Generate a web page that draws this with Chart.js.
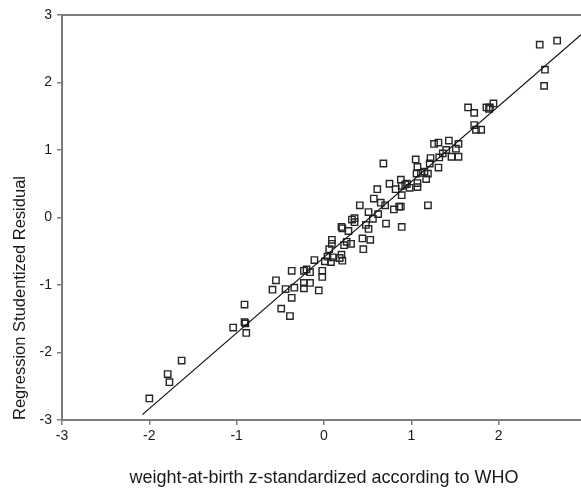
<!DOCTYPE html>
<html>
<head>
<meta charset="utf-8">
<script src="https://cdn.jsdelivr.net/npm/chart.js@4.4.1/dist/chart.umd.min.js"></script>
<style>
  html, body { margin: 0; padding: 0; background: #fff; overflow: hidden; }
  #wrap { width: 620px; height: 491px; }
</style>
</head>
<body>
<div id="wrap"><canvas id="grafico" width="620" height="491"></canvas></div>
<script>
// weight-at-birth z-score (x) vs studentized residual (y)
const zPeso = [
  -2.00, -1.79, -1.77, -1.63, -1.04, -0.91, -0.91, -0.90, -0.89, -0.59,
  -0.55, -0.49, -0.44, -0.39, -0.37, -0.37, -0.34, -0.23, -0.23, -0.23,
  -0.20, -0.16, -0.16, -0.11, -0.06, -0.02, -0.02, 0.01, 0.04, 0.06,
  0.08, 0.09, 0.09, 0.10, 0.18, 0.20, 0.21, 0.20, 0.21, 0.23,
  0.26, 0.28, 0.31, 0.32, 0.35, 0.35, 0.41, 0.44, 0.45, 0.48,
  0.51, 0.51, 0.53, 0.56, 0.57, 0.61, 0.62, 0.65, 0.68, 0.70,
  0.71, 0.75, 0.80, 0.82, 0.86, 0.88, 0.88, 0.89, 0.89, 0.89,
  0.93, 0.95, 0.98, 1.05, 1.06, 1.07, 1.07, 1.07, 1.11, 1.15,
  1.17, 1.19, 1.19, 1.21, 1.22, 1.26, 1.31, 1.31, 1.32, 1.36,
  1.40, 1.43, 1.46, 1.51, 1.54, 1.54, 1.65, 1.72, 1.72, 1.74,
  1.80, 1.86, 1.89, 1.90, 1.94, 2.47, 2.67, 2.53, 2.52
];
const residuo = [
  -2.68, -2.32, -2.44, -2.12, -1.63, -1.29, -1.55, -1.57, -1.71, -1.07,
  -0.93, -1.35, -1.06, -1.46, -0.79, -1.19, -1.04, -0.79, -0.97, -1.05,
  -0.77, -0.81, -0.97, -0.63, -1.08, -0.79, -0.88, -0.65, -0.58, -0.47,
  -0.66, -0.33, -0.39, -0.59, -0.60, -0.14, -0.16, -0.55, -0.64, -0.41,
  -0.36, -0.20, -0.39, -0.03, -0.01, -0.07, 0.18, -0.31, -0.47, -0.11,
  -0.17, 0.08, -0.33, -0.02, 0.28, 0.42, 0.05, 0.22, 0.80, 0.18,
  -0.09, 0.50, 0.12, 0.42, 0.16, 0.56, 0.16, -0.14, 0.33, 0.47,
  0.49, 0.50, 0.44, 0.86, 0.65, 0.75, 0.51, 0.45, 0.66, 0.68,
  0.57, 0.18, 0.65, 0.80, 0.88, 1.09, 1.11, 0.74, 0.89, 0.95,
  1.00, 1.14, 0.90, 1.02, 1.09, 0.90, 1.63, 1.55, 1.37, 1.30,
  1.30, 1.63, 1.61, 1.63, 1.69, 2.56, 2.62, 2.19, 1.95
];
// fitted line, read at its two ends
const lineaX = [-2.08, 3.0];
const lineaY = [-2.92, 2.77];
const ticksEje = [-3, -2, -1, 0, 1, 2, 3];

const gris = "#7d7d7d";
const texto = "#1a1a1a";

const puntos = zPeso.map((x, i) => ({ x: x, y: residuo[i] }));
const linea = lineaX.map((x, i) => ({ x: x, y: lineaY[i] }));

const ctx = document.getElementById("grafico").getContext("2d");

const chart = new Chart(ctx, {
    type: "scatter",
    data: {
        datasets: [{
            type: "line",
            data: linea,
            borderColor: "#111",
            borderWidth: 1.2,
            pointRadius: 0,
            fill: false
        }, {
            data: puntos,
            pointStyle: "rect",
            pointRadius: 4.5,
            pointBorderWidth: 1.4,
            pointBorderColor: "#262626",
            pointBackgroundColor: "rgba(255,255,255,0)"
        }]
    },
    options: {
        responsive: false,
        devicePixelRatio: 1,
        animation: false,
        layout: { padding: { left: 0, right: 34, top: 0, bottom: 0 } },
        plugins: { legend: { display: false }, tooltip: { enabled: false } },
        scales: {
            x: {
                type: "linear",
                position: "bottom",
                min: -3,
                max: 3,
                afterBuildTicks: s => { s.ticks = ticksEje.map(v => ({ value: v })); },
                afterFit: s => { s.height = 71; },
                ticks: { font: { family: "Liberation Sans", size: 14 }, color: texto, padding: 3, maxRotation: 0, autoSkip: false },
                grid: { drawOnChartArea: false, drawTicks: true, tickLength: 5, color: gris, lineWidth: 1.5 },
                border: { color: gris, width: 2 },
                title: {
                    display: true,
                    text: "weight-at-birth z-standardized according to WHO",
                    font: { family: "Liberation Sans", size: 18 },
                    color: texto,
                    padding: { top: 2, bottom: 2 }
                }
            },
            x2: {
                type: "linear",
                position: "top",
                min: -3,
                max: 3,
                afterFit: s => { s.height = 15; },
                ticks: { display: false },
                grid: { display: false },
                border: { color: gris, width: 2 }
            },
            y: {
                type: "linear",
                min: -3,
                max: 3,
                afterBuildTicks: s => { s.ticks = ticksEje.map(v => ({ value: v })); },
                afterFit: s => { s.width = 62; },
                ticks: { font: { family: "Liberation Sans", size: 14 }, color: texto, padding: 5 },
                grid: { drawOnChartArea: false, drawTicks: true, tickLength: 5, color: gris, lineWidth: 1.5 },
                border: { color: gris, width: 2 },
                title: {
                    display: true,
                    text: "Regression Studentized Residual",
                    align: "start",
                    font: { family: "Liberation Sans", size: 16.5 },
                    color: texto,
                    padding: { top: 11, bottom: 0 }
                }
            }
        }
    }
});
</script>
</body>
</html>
